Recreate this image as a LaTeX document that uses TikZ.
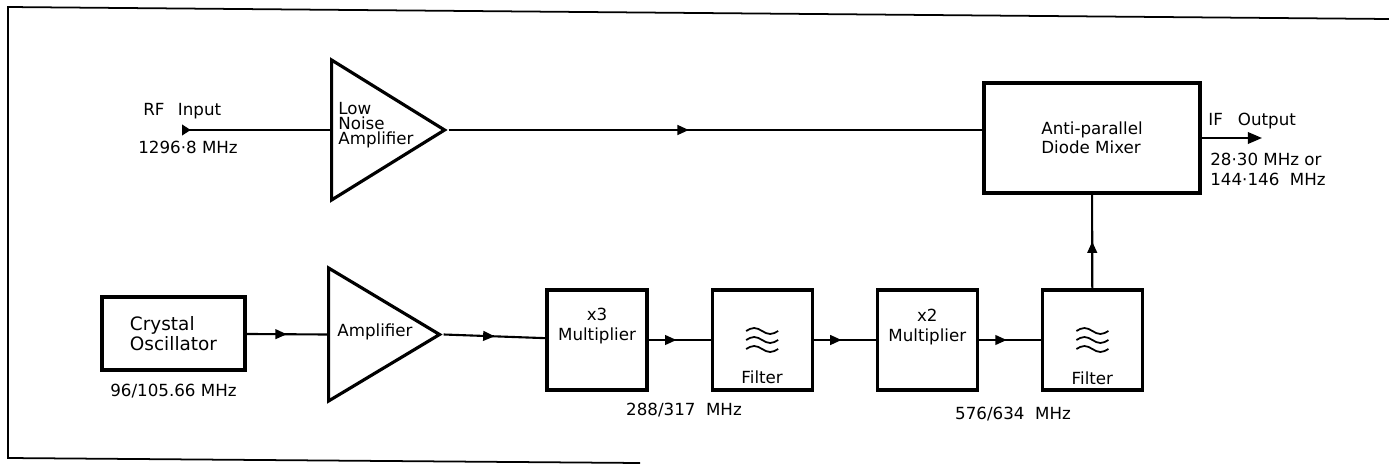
\documentclass[tikz,border=0pt]{standalone}
\usepackage{fontspec}
\setmainfont{DejaVu Sans}
\usetikzlibrary{arrows.meta, positioning, shapes.geometric, decorations.markings}

\begin{document}
\begin{tikzpicture}[
    x=0.02cm, y=-0.02cm,
    node distance=1.24cm,
    txt/.style={font=\fontsize{9.5}{11}\selectfont, inner sep=0pt},
    block/.style={draw, line width=1.8pt, inner sep=0pt, align=left,
        minimum width=2cm, minimum height=2cm, font=\fontsize{9.5}{11}\selectfont},
    triamp/.style={draw, line width=1.8pt, isosceles triangle, isosceles triangle stretches,
        inner sep=0pt, anchor=lower side},
    wire/.style={line width=1.2pt},
    midtip/.style={wire, postaction={decorate}, decoration={markings,
        mark=at position #1 with {\arrow{Triangle[length=6.5pt,width=5.5pt]}}}},
    midtip/.default=0.5
  ]
  \useasboundingbox (0,0) rectangle (1389,463);
  % frame
  \draw[line width=1pt] (1389,19) -- (8,7) -- (8,458) -- (640,463);

  % signal path
  \coordinate (rfin) at (182,130);
  \node[triamp, minimum width=2.8cm, minimum height=2.26cm] (lna) at (330,130) {};
  \node[txt, align=left, anchor=north west, font=\fontsize{9.5}{8.5}\selectfont] (lnatxt) at (338,102) {Low\\Noise\\Amplifier};
  \node[block, minimum width=4.32cm, minimum height=2.2cm, font=\fontsize{9.5}{10.8}\selectfont] (mixer) at (1092,138) {Anti-parallel\\Diode Mixer};
  \coordinate (ifout) at (1262,138);

  \node[txt, anchor=base west] (rflbl) at (143,115) {RF\hspace{0.8em}Input};
  \node[txt, anchor=base west] (rffreq) at (138,153) {1296·8 MHz};
  \node[txt, anchor=base west] (iflbl) at (1208,125) {IF\hspace{0.9em}Output};
  \node[txt, align=left, anchor=north west, font=\fontsize{9.5}{11.4}\selectfont] (iffreq) at (1210,153) {28·30 MHz or\\144·146\ \ MHz};

  % local oscillator chain
  \node[block, minimum width=2.86cm, minimum height=1.46cm, font=\fontsize{10.5}{10}\selectfont] (xtal) at (173.5,333.5) {Crystal\\Oscillator};
  \node[triamp, minimum width=2.66cm, minimum height=2.22cm] (amp) at (327,334.5) {};
  \node[txt, anchor=west] (amptxt) at (337,332) {Amplifier};
  \node[block] (x3) at (597,340) {};
  \node[block, right=of x3] (filt1) {};
  \node[block, right=of filt1] (x2) {};
  \node[block, right=of x2] (filt2) {};

  \node[txt, align=center, below=0.38cm of x3.north, font=\fontsize{9.5}{11.4}\selectfont] (x3txt) {x3\\Multiplier};
  \node[txt, align=center, below=0.4cm of x2.north, font=\fontsize{9.5}{11.4}\selectfont] (x2txt) {x2\\Multiplier};
  \node[txt, above=0.14cm of filt1.south] (f1txt) {Filter};
  \node[txt, above=0.12cm of filt2.south] (f2txt) {Filter};
  \foreach \f in {filt1,filt2}
    \foreach \dy in {-9,0,9}
      \draw[line width=1pt] ([shift={(-16,\dy)}]\f.center) sin ++(8,-3) cos ++(8,3) sin ++(8,3) cos ++(8,-3);

  \node[txt, below=0.24cm of xtal] (f96) {96/105.66 MHz};
  \node[txt, anchor=north] (f288) at (684,403) {288/317\ \ MHz};
  \node[txt, anchor=north] (f576) at (1013,407) {576/634\ \ MHz};

  % connections
  \draw[wire, {Triangle[reversed,length=5pt,width=6pt]}-] (rfin) -- (lna.lower side);
  \draw[midtip=0.45] (lna.apex) -- (lna.apex -| mixer.west);
  \draw[wire, -{Triangle[length=8pt,width=6.5pt]}] (mixer.east) -- (ifout);
  \draw[midtip] (xtal) -- (amp.lower side);
  \draw[midtip] (amp.apex) -- (x3);
  \draw[midtip=0.45] (x3) -- (filt1);
  \draw[midtip=0.45] (filt1) -- (x2);
  \draw[midtip=0.45] (x2) -- (filt2);
  \draw[midtip] (filt2) -- (mixer);
\end{tikzpicture}
\end{document}
